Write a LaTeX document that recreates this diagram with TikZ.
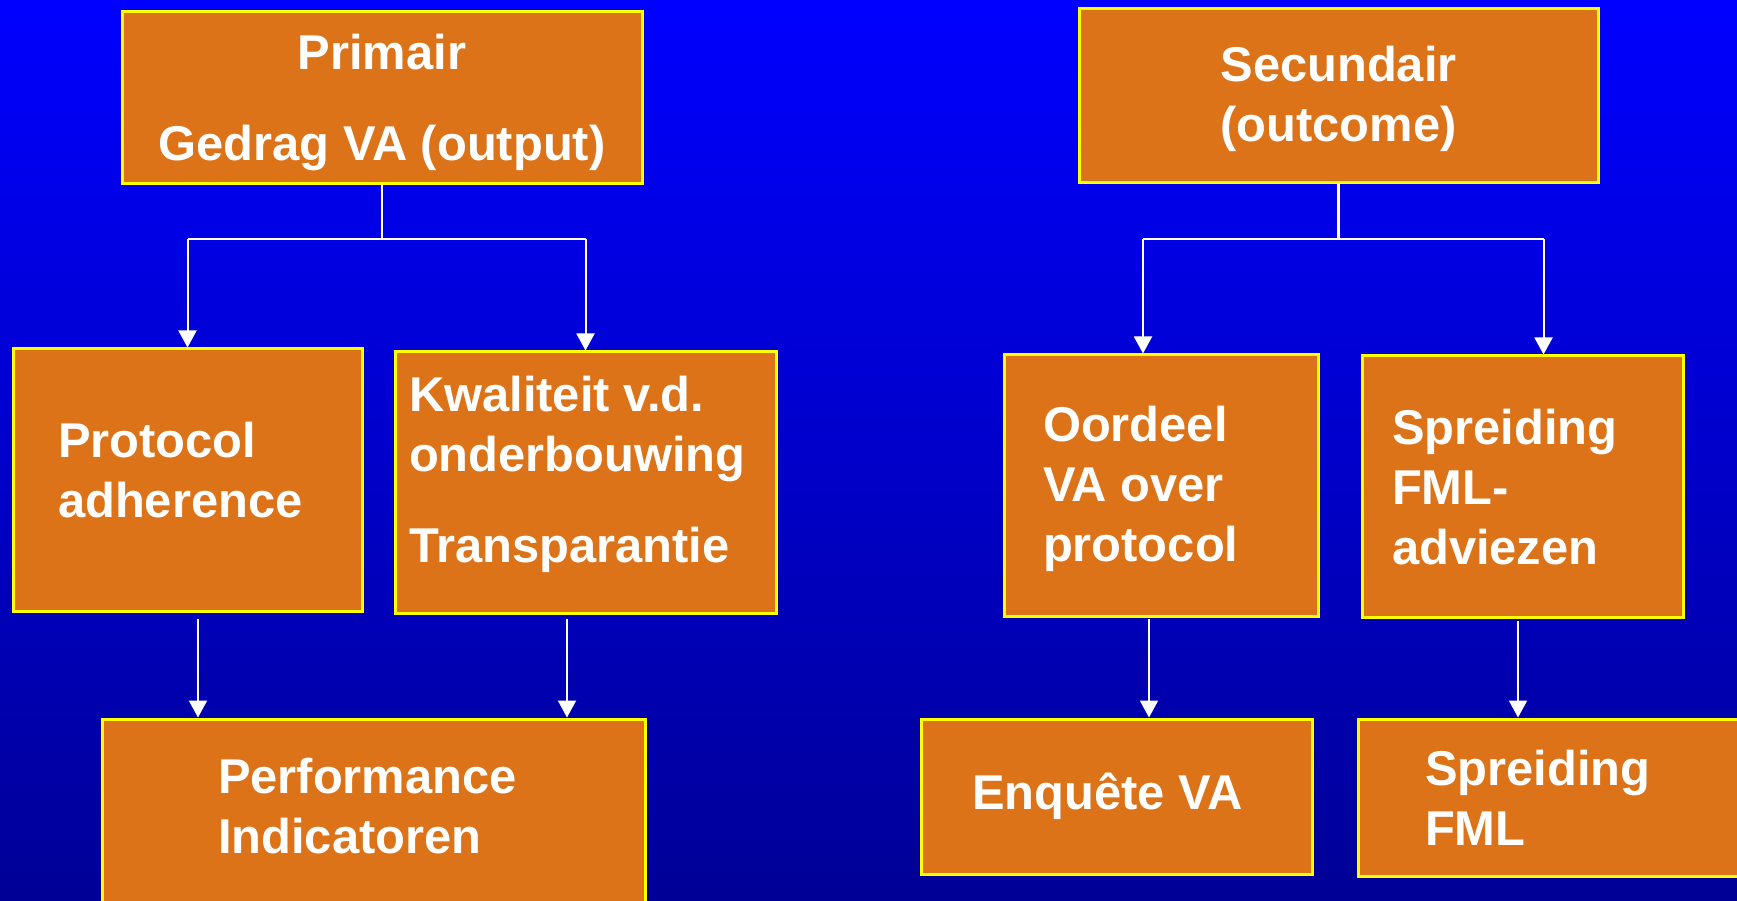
\documentclass[tikz,border=0pt]{standalone}
\usepackage{fontspec}
\setmainfont{Liberation Sans}
\usetikzlibrary{arrows.meta}
\definecolor{bgtop}{RGB}{0,0,255}
\definecolor{bgbot}{RGB}{0,0,150}
\definecolor{oranje}{RGB}{220,115,25}
\definecolor{geel}{RGB}{255,255,0}
\tikzstyle{blok} = [rectangle, draw=geel, line width=0.3mm, fill=oranje, text=white, font=\bfseries\fontsize{13.9}{17.07}\selectfont, inner ysep=0pt]
\tikzstyle{links} = [align=flush left]
\tikzstyle{line} = [white, line width=0.28mm]
\tikzstyle{arrow} = [white, line width=0.2mm, -{Triangle[width=1.8mm,length=1.7mm]}]
\newcommand{\diep}[1]{\rule[-#1]{0pt}{0pt}}
\newcommand{\hoog}[1]{\rule{0pt}{#1}}

\begin{document}
\begin{tikzpicture}[x=0.1mm, y=-0.1mm]
  \useasboundingbox (0,0) rectangle (1737,901);
  \clip (0,0) rectangle (1737,901);
  \shade[top color=bgtop, bottom color=bgbot] (0,0) rectangle (1737,901);

  % primair
  \node[blok, align=center, minimum width=52mm, minimum height=17.2mm] (prim) at (382,98) {\hoog{4.5mm}Primair\\[3.1mm]Gedrag VA (output)};
  \node[blok, links, minimum width=34.9mm, minimum height=26.3mm, text width=25.9mm, inner xsep=4.5mm] (prot) at (187.5,480.5) {Protocol\\adherence\diep{2.1mm}};
  \node[blok, links, minimum width=38.1mm, minimum height=26.2mm, text width=35.3mm, inner xsep=1.4mm] (kwal) at (585.5,483) {Kwaliteit v.d.\\onderbouwing\\[3.1mm]Transparantie\diep{2.7mm}};
  \node[blok, links, minimum width=54.3mm, minimum height=22.1mm, text width=31.1mm, inner xsep=11.6mm] (perf) at (373.5,829.5) {Performance\\Indicatoren\diep{4.8mm}};

  % secundair
  \node[blok, align=center, minimum width=51.9mm, minimum height=17.4mm] (sec) at (1338.5,96) {\hoog{4.2mm}Secundair\\(outcome)};
  \node[blok, links, minimum width=31.4mm, minimum height=26.2mm, text width=23.6mm, inner xsep=3.9mm] (oord) at (1161,486) {\hoog{4.2mm}Oordeel\\VA over\\protocol};
  \node[blok, links, minimum width=32.1mm, minimum height=26.2mm, text width=26.1mm, inner xsep=3mm] (spr) at (1522.5,487) {Spreiding\\FML-\\adviezen};
  \node[blok, links, minimum width=39.1mm, minimum height=15.5mm, text width=28.9mm, inner xsep=5.1mm] (enq) at (1116.5,796.5) {Enqu\^ete VA};
  \node[blok, links, minimum width=44.2mm, minimum height=15.7mm, text width=30.8mm, inner xsep=6.7mm] (sprf) at (1579,797.5) {Spreiding\\FML};

  \coordinate (pj) at (382,239);
  \coordinate (sj) at (1338.5,239);
  \coordinate (oa) at ([xshift=-1.8mm]oord.north);
  \coordinate (sa) at ([xshift=2.1mm]spr.north);
  \coordinate (pa) at ([xshift=1.05mm,yshift=-0.6mm]prot.south);
  \coordinate (ka) at ([xshift=-1.85mm,yshift=-0.4mm]kwal.south);
  \coordinate (ob) at ([xshift=-1.2mm,yshift=-0.1mm]oord.south);
  \coordinate (sb) at ([xshift=-0.45mm,yshift=-0.2mm]spr.south);

  \draw[line] (prim) -- (pj);
  \draw[line] (prot.north |- pj) -- (kwal.north |- pj);
  \draw[arrow] (prot.north |- pj) -- (prot.north);
  \draw[arrow] (kwal.north |- pj) -- (kwal.north);
  \draw[arrow] (pa) -- (pa |- perf.north);
  \draw[arrow] (ka) -- (ka |- perf.north);

  \draw[line] (sec) -- (sj);
  \draw[line] (oa |- sj) -- (sa |- sj);
  \draw[arrow] (oa |- sj) -- (oa);
  \draw[arrow] (sa |- sj) -- (sa);
  \draw[arrow] (ob) -- (ob |- enq.north);
  \draw[arrow] (sb) -- (sb |- sprf.north);
\end{tikzpicture}
\end{document}
